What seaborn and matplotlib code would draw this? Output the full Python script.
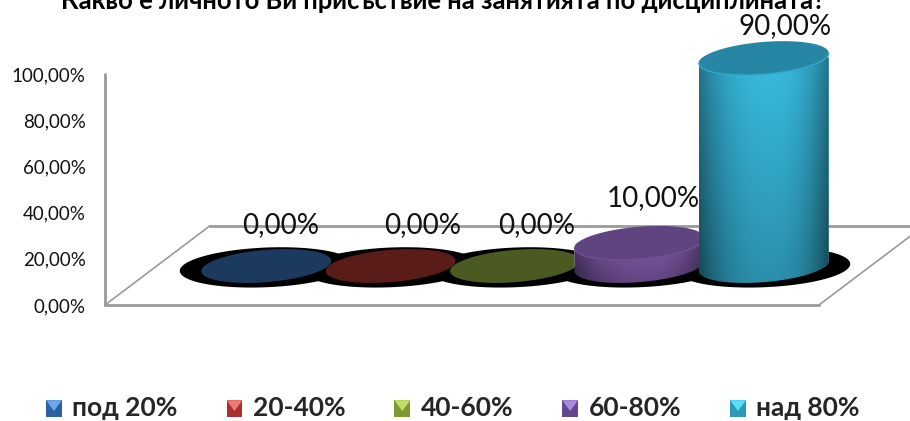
import numpy as np
import pandas as pd
import matplotlib
matplotlib.use('Agg')
import matplotlib.pyplot as plt
from matplotlib.patches import Patch, Polygon, Rectangle
from matplotlib.legend_handler import HandlerPatch
import seaborn as sns

categories = ['под 20%', '20-40%', '40-60%', '60-80%', 'над 80%']
values = [0, 0, 0, 10, 90]
value_labels = ['0,00%', '0,00%', '0,00%', '10,00%', '90,00%']
y_ticks = [0, 20, 40, 60, 80, 100]
y_tick_labels = ['0,00%', '20,00%', '40,00%', '60,00%', '80,00%', '100,00%']
title = 'Какво е личното Ви присъствие на занятията по дисциплината?'

top_colors = ['#1c3a5e', '#5a1c18', '#4b5a20', '#5f4480', '#2686a3']
side_colors = ['#2a5a92', '#8c2a26', '#728a30', '#7d58a5', '#38bbe0']
key_colors = ['#2e5f9e', '#a83230', '#7f9a35', '#63478f', '#2a9ab8']
key_light = ['#6ea6ee', '#ee7a74', '#c4dc6a', '#a98ae0', '#5adcf4']

# label shift from the cylinder centre, pixels
label_dx = [14, 32, 22, 14, 21]
label_dy = [41, 41, 41, 45, 32]

W, H = 910, 421
sns.set_style('white')
plt.rcParams['font.family'] = ['Lato', 'Noto Sans', 'DejaVu Sans']

fig = plt.figure(figsize=(W / 100, H / 100), dpi=100)


def px_axes(left, right, top, bottom):
    return fig.add_axes([left / W, (H - bottom) / H, (right - left) / W, (bottom - top) / H])


# back axes: scale, left wall and floor
ax = px_axes(105, 910, 74, 305)
ax.set_ylim(0, 100)
ax.set_xlim(105, 910)
ax.set_yticks(y_ticks)
ax.set_yticklabels(y_tick_labels, fontsize=13.5, color='#111111')
ax.set_xticks([])
ax.tick_params(axis='y', length=0, pad=14)
sns.despine(ax=ax, top=True, right=True, bottom=True, left=True)
grey = '#9a9a9a'
depth = 34.3
ax.plot([105, 105], [0, 100], color=grey, lw=2, clip_on=False)
ax.plot([105, 819], [0, 0], color=grey, lw=2, clip_on=False)
ax.plot([105, 210], [0, depth], color=grey, lw=1.2, clip_on=False)
ax.plot([819, 924], [0, depth], color=grey, lw=1.2, clip_on=False)
ax.plot([210, 924], [depth, depth], color=grey, lw=2, clip_on=False)

# front axes: same y scale, baseline lifted onto the floor, room around for the round bases
y_low = -20
bx = px_axes(191.6, 838.4, 35, 266 + 20 * 2.31)
bx.patch.set_alpha(0)
df = pd.DataFrame({'category': categories, 'value': values})
sns.barplot(data=df, x='category', y='value', hue='category', palette=side_colors,
            width=1.044, saturation=1, legend=False, ax=bx, zorder=3)
bars = list(bx.patches)
bx.axis('off')

half = 0.522
tilt = 2.2
depth_b = 7.0
t = np.linspace(0, 2 * np.pi, 181)


def ring(i, v, a=half, b=depth_b, s=tilt):
    return np.column_stack([i + a * np.cos(t), v + b * np.sin(t) + s * np.cos(t)])


def body(i, v):
    lower = ring(i, 0)[90:]
    upper = ring(i, v)[:91]
    return np.vstack([upper, lower])


# black blobs under each cylinder
for i in range(len(values)):
    bx.add_patch(Polygon(ring(i, -0.6, a=0.695, b=8.6, s=1.5), color='black', lw=0, zorder=1,
                         clip_on=False))

for i, (v, top, side) in enumerate(zip(values, top_colors, side_colors)):
    z = 3 + i
    bars[i].set_zorder(z)
    if v == 0:
        bars[i].set_visible(False)
    else:
        shape = Polygon(body(i, v), transform=bx.transData, facecolor='none', lw=0, clip_on=False)
        bx.add_patch(shape)
        bars[i].set_clip_path(shape)
        # shading of the side, lit from the upper middle, right edge darkest
        xs = np.linspace(-1, 1, 200)
        ys = np.linspace(0, 1, 100)
        gx, gy = np.meshgrid(xs, ys)
        dist = gx - 0.1
        edge = np.where(dist < 0, 0.3, 0.5)
        shade = 1 - edge * np.abs(dist) ** 2.4 - 0.24 * (1 - gy)
        rgb = np.array(matplotlib.colors.to_rgb(side))
        img = np.clip(shade[..., None] * rgb, 0, 1)
        im = bx.imshow(img, extent=[i - half, i + half, -depth_b - tilt, v], origin='lower',
                       aspect='auto', zorder=z + 0.1)
        im.set_clip_path(shape)
    bx.add_patch(Polygon(ring(i, v), facecolor=top, lw=0, zorder=z + 0.2, clip_on=False))
    if v > 0:
        rim = np.clip(np.array(matplotlib.colors.to_rgb(side)) * 0.9, 0, 1)
        bx.plot(*ring(i, v)[90:].T, color=rim, lw=1, zorder=z + 0.3)
    bx.annotate(value_labels[i], (i, v), xytext=(label_dx[i] * 0.72, label_dy[i] * 0.72),
                textcoords='offset points', ha='center', va='center', fontsize=20,
                color='#111111', zorder=20, annotation_clip=False)

bx.set_xlim(-0.6, 4.6)
bx.set_ylim(y_low, 100)

fig.text(443 / W, (H - 1) / H, title, ha='center', va='center', fontsize=18.4,
         fontweight='bold', color='black')


class KeyHandler(HandlerPatch):
    def create_artists(self, legend, orig, x0, y0, w, h, fontsize, trans):
        r = Rectangle((x0, y0), w, h, facecolor=orig.get_facecolor(), lw=0, transform=trans)
        tri = Polygon([[x0, y0 + h], [x0 + w, y0 + h], [x0 + w / 2, y0 + h * 0.35]],
                      facecolor=orig.get_edgecolor(), lw=0, transform=trans)
        return [r, tri]


handles = [Patch(facecolor=c, edgecolor=l, label=n) for c, l, n in zip(key_colors, key_light, categories)]
leg = fig.legend(handles=handles, loc='center', bbox_to_anchor=(453 / W, (H - 408) / H), ncol=5,
                 frameon=False, prop={'size': 19, 'weight': 'bold'},
                 handler_map={Patch: KeyHandler()}, handlelength=0.6, handleheight=0.6,
                 handletextpad=0.4, columnspacing=1.85, borderpad=0, borderaxespad=0)

fig.savefig('out.png', dpi=100)
